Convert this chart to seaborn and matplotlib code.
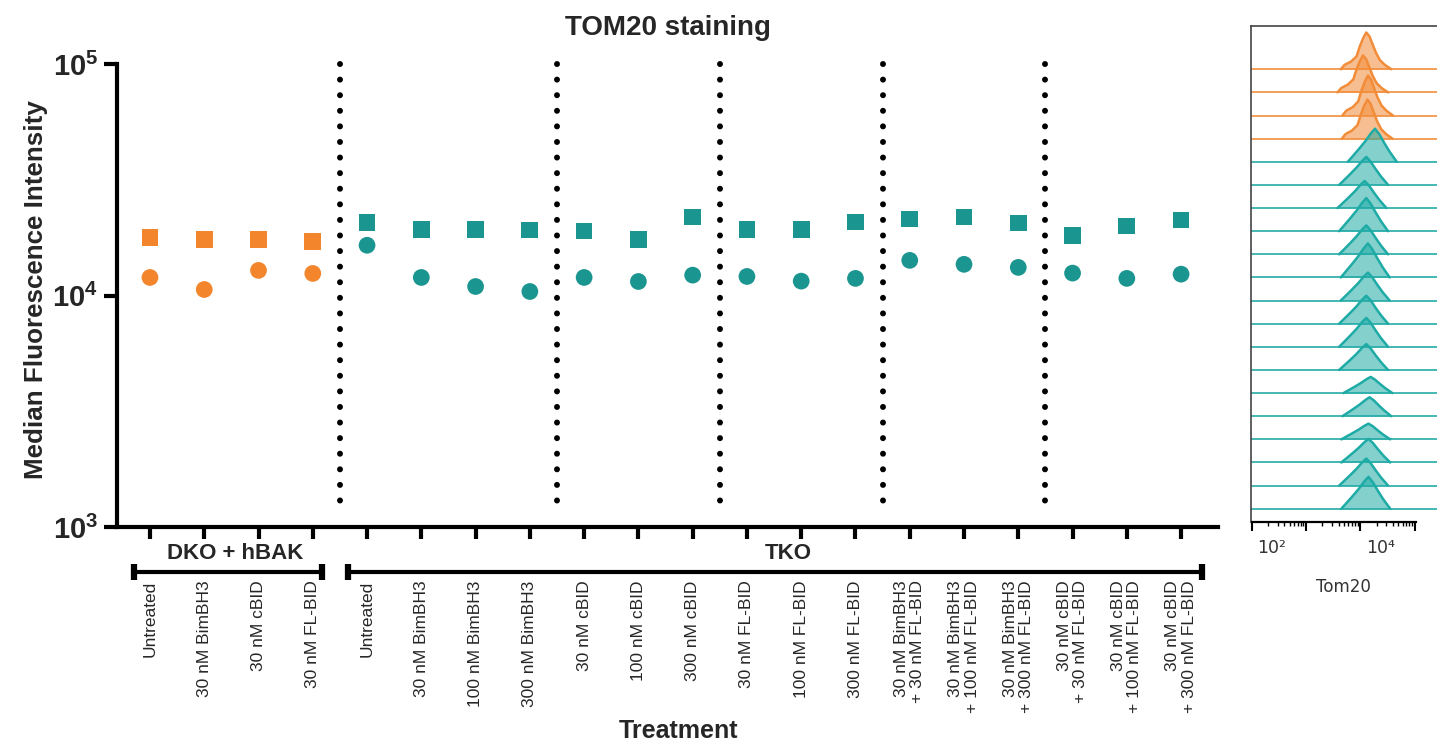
import numpy as np
import pandas as pd
import matplotlib
matplotlib.use("Agg")
import matplotlib.pyplot as plt
import matplotlib.transforms as mtransforms
from matplotlib.ticker import FixedLocator, FuncFormatter, NullLocator, NullFormatter
import seaborn as sns

# ---------------- data ----------------
categories = [
    "Untreated", "30 nM BimBH3", "30 nM cBID", "30 nM FL-BID",
    "Untreated", "30 nM BimBH3", "100 nM BimBH3", "300 nM BimBH3",
    "30 nM cBID", "100 nM cBID", "300 nM cBID",
    "30 nM FL-BID", "100 nM FL-BID", "300 nM FL-BID",
    "30 nM BimBH3\n+ 30 nM FL-BID", "30 nM BimBH3\n+ 100 nM FL-BID", "30 nM BimBH3\n+ 300 nM FL-BID",
    "30 nM cBID\n+ 30 nM FL-BID", "30 nM cBID\n+ 100 nM FL-BID", "30 nM cBID\n+ 300 nM FL-BID",
]
groups = ["DKO + hBAK"] * 4 + ["TKO"] * 16
square_mfi = [17870, 17510, 17510, 17160,
              20630, 19350, 19350, 19170, 18980, 17510, 21840,
              19350, 19350, 20770, 21400, 21840, 20570, 18230, 19950, 21180]
circle_mfi = [11970, 10620, 12840, 12460,
              16490, 11970, 10940, 10410, 11970, 11500, 12250,
              12090, 11540, 11860, 14190, 13640, 13230, 12500, 11860, 12370]
separators = [3.5, 7.5, 10.5, 13.5, 16.5]

# flow histogram ridges (top to bottom)
ridge_groups = ["DKO + hBAK"] * 4 + ["TKO"] * 16
ridge_peak_log = [4.11, 4.05, 4.14, 4.13, 4.27, 4.11, 4.08, 4.11, 4.11, 4.14,
                  4.14, 4.11, 4.11, 4.11, 4.19, 4.17, 4.15, 4.15, 4.11, 4.15]
ridge_height = [1.59, 1.60, 1.73, 1.69, 1.43, 1.21, 1.17, 1.43, 1.25, 1.47,
                1.21, 1.21, 1.25, 1.12, 0.70, 0.82, 0.68, 1.02, 1.17, 1.38]
orange_offset = [-0.47, -0.40, -0.28, -0.18, -0.12, -0.06, 0.0, 0.06, 0.12, 0.18, 0.25, 0.34, 0.46]
orange_shape = [0.0, 0.12, 0.21, 0.35, 0.62, 0.84, 1.0, 0.89, 0.66, 0.44, 0.25, 0.12, 0.0]
teal_offset = [-0.50, -0.42, -0.30, -0.18, -0.08, 0.0, 0.08, 0.17, 0.27, 0.40]
teal_shape = [0.0, 0.15, 0.38, 0.62, 0.85, 1.0, 0.83, 0.57, 0.30, 0.0]

ORANGE = "#F3862C"
TEAL = "#1B9590"
palette = {"DKO + hBAK": ORANGE, "TKO": TEAL}
hist_colors = {"DKO + hBAK": "#F28C38", "TKO": "#1EAAA5"}

# ---------------- style ----------------
sns.set_theme(style="white")
plt.rcParams["font.family"] = ["Liberation Sans", "DejaVu Sans"]
plt.rcParams["mathtext.fontset"] = "custom"
plt.rcParams["mathtext.rm"] = "Liberation Sans"
plt.rcParams["mathtext.bf"] = "Liberation Sans:bold"

fig = plt.figure(figsize=(14.37, 7.5), dpi=100)
ax = fig.add_axes([0.0814, 0.2973, 0.7662, 0.6173])

pos = list(range(len(categories)))
df = pd.DataFrame({
    "pos": pos * 2,
    "mfi": square_mfi + circle_mfi,
    "group": groups * 2,
    "measure": ["square"] * len(pos) + ["circle"] * len(pos),
})

ax.set_yscale("log")
sns.scatterplot(data=df, x="pos", y="mfi", hue="group", style="measure",
                markers={"square": "s", "circle": "o"}, palette=palette,
                s=145, linewidth=0, legend=False, ax=ax, zorder=3)

for xs in separators:
    ax.plot([xs, xs], [1e5, 10 ** 3.06], color="black", lw=4.3,
            linestyle=(0, (0.01, 2.6)), dash_capstyle="round",
            clip_on=False, zorder=2)

ax.set_xlim(-0.608, 19.68)
ax.set_ylim(1e3, 1e5)
ax.yaxis.set_major_locator(FixedLocator([1e3, 1e4, 1e5]))
ax.yaxis.set_minor_locator(NullLocator())
ax.yaxis.set_major_formatter(FuncFormatter(lambda v, p: r"$\mathbf{10^{%d}}$" % round(np.log10(v))))
ax.set_xticks(pos)
ax.set_xticklabels(categories, rotation=90, ha="center", va="top",
                   multialignment="right", fontsize=12.5, linespacing=1.1)

for side in ["top", "right"]:
    ax.spines[side].set_visible(False)
for side in ["left", "bottom"]:
    ax.spines[side].set_linewidth(3)
    ax.spines[side].set_color("black")
ax.tick_params(axis="y", which="major", left=True, length=9.5, width=3,
               direction="out", pad=4, labelsize=21, color="black")
ax.tick_params(axis="x", which="major", bottom=True, length=8.5, width=3,
               direction="out", pad=30, color="black")

ax.set_title("TOM20 staining", fontsize=20, fontweight="bold", pad=21)
ax.set_xlabel("Treatment", fontsize=18, fontweight="bold")
ax.xaxis.set_label_coords(0.51, -0.4147)
ax.set_ylabel("Median Fluorescence Intensity", fontsize=18.7, fontweight="bold")
ax.yaxis.set_label_coords(-0.0627, 0.513)

# group brackets
trans = mtransforms.blended_transform_factory(ax.transData, ax.transAxes)
for name, x0, x1, xt in [("DKO + hBAK", -0.3, 3.17, 1.57), ("TKO", 3.65, 19.39, 11.76)]:
    ax.plot([x0, x1], [-0.0972, -0.0972], transform=trans, color="black", lw=3,
            solid_capstyle="butt", clip_on=False)
    ax.plot([x0, x1], [-0.0972, -0.0972], transform=trans, ls="none", marker="|",
            ms=12, mew=4.5, color="black", clip_on=False)
    ax.text(xt, -0.0562, name, transform=trans, ha="center", va="center",
            fontsize=16, fontweight="bold")

# ---------------- histogram panel ----------------
axh = fig.add_axes([0.8706, 0.3044, 0.1294, 0.6609])
axh.set_xscale("log")
n = len(ridge_peak_log)
for i in range(n):
    base = n - 1 - i
    g = ridge_groups[i]
    c = hist_colors[g]
    offs = np.array(orange_offset if g == "DKO + hBAK" else teal_offset)
    shp = np.array(orange_shape if g == "DKO + hBAK" else teal_shape)
    xx = 10 ** (ridge_peak_log[i] + offs)
    yy = base + ridge_height[i] * shp
    axh.axhline(base, color=c, lw=1.3, alpha=0.9, zorder=2 + i * 0.01)
    axh.fill_between(xx, base, yy, color=c, alpha=0.55, lw=0, zorder=2 + i * 0.01)
    axh.plot(xx, yy, color=c, lw=1.8, zorder=2 + i * 0.01)

axh.set_xlim(10 ** 1.99, 10 ** 5.41)
axh.set_ylim(-0.56, 20.87)
axh.set_yticks([])
decades = [1e2, 1e3, 1e4, 1e5]
axh.xaxis.set_major_locator(FixedLocator(decades))
axh.xaxis.set_minor_locator(FixedLocator([m * d for d in decades[:-1] for m in range(2, 10)]))
axh.xaxis.set_major_formatter(NullFormatter())
axh.xaxis.set_minor_formatter(NullFormatter())
axh.tick_params(axis="x", which="major", bottom=True, length=6.5, width=1.5, direction="out", color="black")
axh.tick_params(axis="x", which="minor", bottom=True, length=3, width=1.0, direction="out", color="black")
axh.spines["right"].set_visible(False)
for side in ["left", "top"]:
    axh.spines[side].set_linewidth(1.2)
    axh.spines[side].set_color("#444444")
axh.spines["bottom"].set_linewidth(1.6)
axh.spines["bottom"].set_color("black")
axh.spines["bottom"].set_bounds(1e2, 10 ** 5.02)

htrans = mtransforms.blended_transform_factory(axh.transData, axh.transAxes) + \
    mtransforms.ScaledTranslation(0.2, 0, fig.dpi_scale_trans)
for v, lab in [(1e2, "10²"), (1e4, "10⁴")]:
    axh.text(v, -0.053, lab, transform=htrans, ha="center", va="center",
             fontsize=12.5, color="#333333", family=["DejaVu Sans"])
axh.set_xlabel("Tom20", fontsize=12, color="#333333", family=["DejaVu Sans"])
axh.xaxis.set_label_coords(0.495, -0.1136)

fig.savefig("out.png", dpi=100)
